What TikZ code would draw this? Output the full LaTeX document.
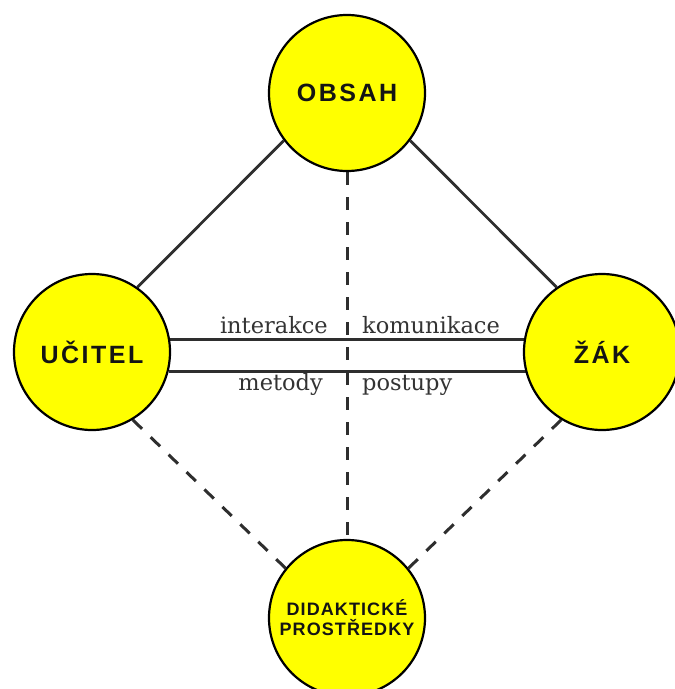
\documentclass[tikz,border=0pt]{standalone}
\usepackage{fontspec}
\usetikzlibrary{backgrounds}
\setmainfont{DejaVu Serif}
\newfontfamily\lblfont{Liberation Sans}[LetterSpace=10]
\newfontfamily\smlblfont{Liberation Sans}[LetterSpace=6]
\definecolor{circfill}{HTML}{FFFF00}
\definecolor{linec}{HTML}{2E2E2E}
\definecolor{txtc}{HTML}{333333}
\definecolor{lblc}{HTML}{141414}
\begin{document}
\begin{tikzpicture}[x=1pt,y=-1pt,
  hub/.style={circle, draw=black, line width=2.2pt, fill=circfill,
    minimum size=156pt, inner sep=0pt, align=center, text=lblc,
    font=\lblfont\bfseries\fontsize{25}{28}\selectfont},
  smallhub/.style={hub, font=\smlblfont\bfseries\fontsize{18}{20}\selectfont},
  solidlink/.style={draw=linec, line width=2.8pt},
  barlink/.style={draw=linec, line width=3pt},
  dashlink/.style={draw=linec, line width=3pt, dash pattern=on 13pt off 12pt},
  rel/.style={font=\fontsize{22.5}{26}\selectfont, text=txtc, inner sep=0pt}]
\useasboundingbox (0,0) rectangle (675,689);
\node[hub] (O) at (347,93) {OBSAH};
\node[hub] (U) at (92,352) {UČITEL};
\node[hub] (Z) at (602,352) {ŽÁK};
\node[smallhub] (D) at (347,618) {DIDAKTICKÉ\\PROSTŘEDKY};
\begin{scope}[on background layer]
\draw[solidlink] (U.55) -- (O.217);
\draw[solidlink] (O.323) -- (Z.125);
\draw[dashlink] (U.301) -- (D.141);
\draw[dashlink] (Z.239) -- (D.39);
\draw[dashlink] (O.south) -- (D.north);
\draw[barlink] (U.9) -- (U.9 -| Z.center);
\draw[barlink] (U.346) -- (U.346 -| Z.center);
\end{scope}
\node[rel, anchor=base east] (t1) at (328,333) {interakce};
\node[rel, anchor=base west] (t2) at (362,333) {komunikace};
\node[rel, anchor=base east] (t3) at (323,390) {metody};
\node[rel, anchor=base west] (t4) at (362,390) {postupy};
\end{tikzpicture}
\end{document}
